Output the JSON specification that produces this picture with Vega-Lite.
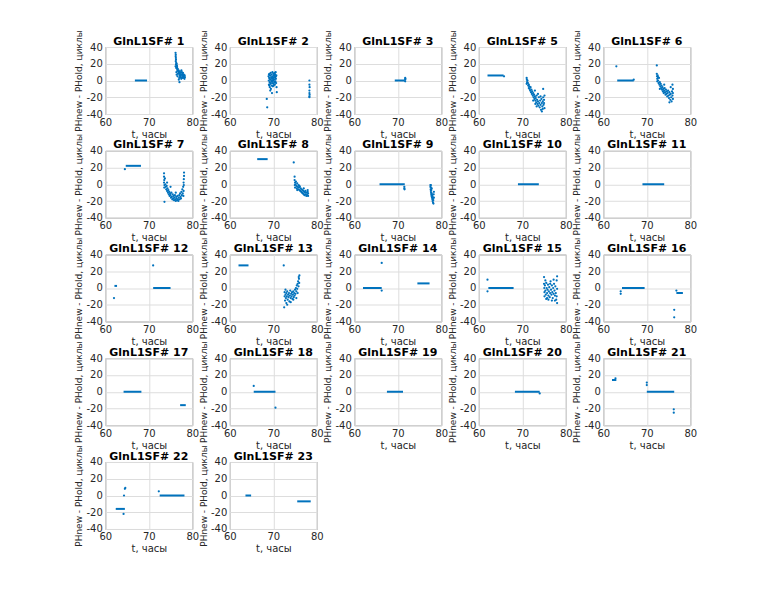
{
  "$schema": "https://vega.github.io/schema/vega-lite/v6.json",
  "padding": {"left": 74.3, "top": 29, "right": 5, "bottom": 5},
  "background": "white",
  "bounds": "flush",
  "spacing": {"column": 37.5, "row": 36.75},
  "columns": 5,
  "data": {"values": [
    {"p":"GlnL1SF# 1","t":66.8,"t2":69.6,"y":0},
    {"p":"GlnL1SF# 1","t":76.15,"y":33},{"p":"GlnL1SF# 1","t":76.2,"y":31},{"p":"GlnL1SF# 1","t":76.18,"y":29},{"p":"GlnL1SF# 1","t":76.22,"y":27},{"p":"GlnL1SF# 1","t":76.25,"y":25},{"p":"GlnL1SF# 1","t":76.2,"y":23},{"p":"GlnL1SF# 1","t":76.3,"y":21},{"p":"GlnL1SF# 1","t":76.25,"y":19},{"p":"GlnL1SF# 1","t":76.15,"y":17},{"p":"GlnL1SF# 1","t":76.3,"y":15},{"p":"GlnL1SF# 1","t":76.4,"y":20},{"p":"GlnL1SF# 1","t":76.45,"y":18},{"p":"GlnL1SF# 1","t":76.5,"y":15},{"p":"GlnL1SF# 1","t":76.55,"y":13},{"p":"GlnL1SF# 1","t":76.6,"y":12},{"p":"GlnL1SF# 1","t":76.35,"y":10},{"p":"GlnL1SF# 1","t":76.7,"y":8},{"p":"GlnL1SF# 1","t":76.5,"y":17},{"p":"GlnL1SF# 1","t":76.65,"y":14},{"p":"GlnL1SF# 1","t":76.75,"y":11},{"p":"GlnL1SF# 1","t":76.85,"y":12},{"p":"GlnL1SF# 1","t":76.9,"y":10},{"p":"GlnL1SF# 1","t":77.0,"y":8},{"p":"GlnL1SF# 1","t":77.1,"y":6},{"p":"GlnL1SF# 1","t":77.2,"y":5},{"p":"GlnL1SF# 1","t":76.95,"y":9},{"p":"GlnL1SF# 1","t":77.3,"y":7},{"p":"GlnL1SF# 1","t":77.4,"y":4},{"p":"GlnL1SF# 1","t":77.0,"y":3},{"p":"GlnL1SF# 1","t":77.15,"y":11},{"p":"GlnL1SF# 1","t":77.35,"y":6},{"p":"GlnL1SF# 1","t":77.6,"y":10},{"p":"GlnL1SF# 1","t":77.7,"y":8},{"p":"GlnL1SF# 1","t":77.8,"y":6},{"p":"GlnL1SF# 1","t":77.9,"y":5},{"p":"GlnL1SF# 1","t":78.0,"y":4},{"p":"GlnL1SF# 1","t":78.1,"y":3},{"p":"GlnL1SF# 1","t":77.65,"y":7},{"p":"GlnL1SF# 1","t":77.85,"y":9},{"p":"GlnL1SF# 1","t":78.2,"y":2},{"p":"GlnL1SF# 1","t":77.95,"y":5},{"p":"GlnL1SF# 1","t":78.25,"y":6},{"p":"GlnL1SF# 1","t":78.3,"y":4},{"p":"GlnL1SF# 1","t":77.5,"y":12},{"p":"GlnL1SF# 1","t":77.25,"y":9},{"p":"GlnL1SF# 1","t":77.05,"y":-2},{"p":"GlnL1SF# 1","t":76.4,"y":7},{"p":"GlnL1SF# 1","t":76.9,"y":1},{"p":"GlnL1SF# 1","t":77.45,"y":2},{"p":"GlnL1SF# 1","t":77.75,"y":3},{"p":"GlnL1SF# 1","t":78.05,"y":7},{"p":"GlnL1SF# 1","t":76.6,"y":5},

    {"p":"GlnL1SF# 2","t":68.9,"y":5},{"p":"GlnL1SF# 2","t":68.95,"y":0},{"p":"GlnL1SF# 2","t":69.0,"y":-5},{"p":"GlnL1SF# 2","t":69.05,"y":3},{"p":"GlnL1SF# 2","t":69.1,"y":8},{"p":"GlnL1SF# 2","t":69.15,"y":-2},{"p":"GlnL1SF# 2","t":69.2,"y":-8},{"p":"GlnL1SF# 2","t":69.25,"y":6},{"p":"GlnL1SF# 2","t":69.3,"y":1},{"p":"GlnL1SF# 2","t":69.35,"y":-4},{"p":"GlnL1SF# 2","t":69.4,"y":9},{"p":"GlnL1SF# 2","t":69.45,"y":-10},{"p":"GlnL1SF# 2","t":69.5,"y":4},{"p":"GlnL1SF# 2","t":69.55,"y":-1},{"p":"GlnL1SF# 2","t":69.6,"y":7},{"p":"GlnL1SF# 2","t":69.65,"y":-6},{"p":"GlnL1SF# 2","t":69.7,"y":2},{"p":"GlnL1SF# 2","t":69.75,"y":-3},{"p":"GlnL1SF# 2","t":69.8,"y":10},{"p":"GlnL1SF# 2","t":69.85,"y":5},{"p":"GlnL1SF# 2","t":69.9,"y":-7},{"p":"GlnL1SF# 2","t":69.95,"y":0},{"p":"GlnL1SF# 2","t":70.0,"y":8},{"p":"GlnL1SF# 2","t":70.05,"y":-4},{"p":"GlnL1SF# 2","t":70.1,"y":3},{"p":"GlnL1SF# 2","t":70.15,"y":6},{"p":"GlnL1SF# 2","t":70.2,"y":-2},{"p":"GlnL1SF# 2","t":70.25,"y":9},{"p":"GlnL1SF# 2","t":70.3,"y":1},{"p":"GlnL1SF# 2","t":70.35,"y":-5},{"p":"GlnL1SF# 2","t":70.4,"y":7},{"p":"GlnL1SF# 2","t":70.45,"y":4},{"p":"GlnL1SF# 2","t":70.5,"y":-1},{"p":"GlnL1SF# 2","t":70.55,"y":10},{"p":"GlnL1SF# 2","t":70.6,"y":2},{"p":"GlnL1SF# 2","t":70.65,"y":-3},{"p":"GlnL1SF# 2","t":70.7,"y":6},{"p":"GlnL1SF# 2","t":70.75,"y":-8},{"p":"GlnL1SF# 2","t":69.0,"y":7},{"p":"GlnL1SF# 2","t":69.2,"y":2},{"p":"GlnL1SF# 2","t":69.4,"y":-3},{"p":"GlnL1SF# 2","t":69.6,"y":0},{"p":"GlnL1SF# 2","t":69.8,"y":-1},{"p":"GlnL1SF# 2","t":70.0,"y":1},{"p":"GlnL1SF# 2","t":70.2,"y":4},{"p":"GlnL1SF# 2","t":70.4,"y":-2},{"p":"GlnL1SF# 2","t":70.6,"y":5},{"p":"GlnL1SF# 2","t":69.3,"y":-12},{"p":"GlnL1SF# 2","t":69.7,"y":-15},{"p":"GlnL1SF# 2","t":70.8,"y":-14},{"p":"GlnL1SF# 2","t":69.1,"y":-6},{"p":"GlnL1SF# 2","t":69.9,"y":3},{"p":"GlnL1SF# 2","t":70.3,"y":8},{"p":"GlnL1SF# 2","t":70.1,"y":-6},{"p":"GlnL1SF# 2","t":68.5,"y":-22},{"p":"GlnL1SF# 2","t":68.6,"y":-32},
    {"p":"GlnL1SF# 2","t":78.3,"y":0},{"p":"GlnL1SF# 2","t":78.3,"y":-5},{"p":"GlnL1SF# 2","t":78.35,"y":-8},{"p":"GlnL1SF# 2","t":78.3,"y":-12},{"p":"GlnL1SF# 2","t":78.3,"y":-15},{"p":"GlnL1SF# 2","t":78.35,"y":-17},{"p":"GlnL1SF# 2","t":78.3,"y":-19},{"p":"GlnL1SF# 2","t":78.3,"y":-20},

    {"p":"GlnL1SF# 3","t":69.3,"t2":71.6,"y":0},{"p":"GlnL1SF# 3","t":71.7,"y":3},{"p":"GlnL1SF# 3","t":71.7,"y":1},{"p":"GlnL1SF# 3","t":71.7,"y":-1},{"p":"GlnL1SF# 3","t":71.75,"y":2},

    {"p":"GlnL1SF# 5","t":62.0,"t2":65.7,"y":6},{"p":"GlnL1SF# 5","t":65.8,"y":5},
    {"p":"GlnL1SF# 5","t":71.0,"y":3},{"p":"GlnL1SF# 5","t":71.05,"y":1},{"p":"GlnL1SF# 5","t":71.1,"y":-2},{"p":"GlnL1SF# 5","t":71.0,"y":-4},{"p":"GlnL1SF# 5","t":71.2,"y":0},{"p":"GlnL1SF# 5","t":71.3,"y":-3},{"p":"GlnL1SF# 5","t":71.35,"y":-6},{"p":"GlnL1SF# 5","t":71.5,"y":-5},{"p":"GlnL1SF# 5","t":71.5,"y":-9},{"p":"GlnL1SF# 5","t":71.6,"y":-7},{"p":"GlnL1SF# 5","t":71.7,"y":-10},{"p":"GlnL1SF# 5","t":71.8,"y":-12},{"p":"GlnL1SF# 5","t":71.9,"y":-8},{"p":"GlnL1SF# 5","t":72.0,"y":-14},{"p":"GlnL1SF# 5","t":72.1,"y":-11},{"p":"GlnL1SF# 5","t":72.2,"y":-16},{"p":"GlnL1SF# 5","t":72.3,"y":-13},{"p":"GlnL1SF# 5","t":72.4,"y":-18},{"p":"GlnL1SF# 5","t":72.5,"y":-15},{"p":"GlnL1SF# 5","t":72.6,"y":-20},{"p":"GlnL1SF# 5","t":72.7,"y":-17},{"p":"GlnL1SF# 5","t":72.8,"y":-22},{"p":"GlnL1SF# 5","t":72.9,"y":-19},{"p":"GlnL1SF# 5","t":73.0,"y":-24},{"p":"GlnL1SF# 5","t":73.1,"y":-21},{"p":"GlnL1SF# 5","t":73.2,"y":-26},{"p":"GlnL1SF# 5","t":73.3,"y":-18},{"p":"GlnL1SF# 5","t":73.4,"y":-23},{"p":"GlnL1SF# 5","t":73.5,"y":-28},{"p":"GlnL1SF# 5","t":73.6,"y":-25},{"p":"GlnL1SF# 5","t":73.7,"y":-30},{"p":"GlnL1SF# 5","t":73.8,"y":-20},{"p":"GlnL1SF# 5","t":73.9,"y":-27},{"p":"GlnL1SF# 5","t":74.0,"y":-32},{"p":"GlnL1SF# 5","t":74.1,"y":-24},{"p":"GlnL1SF# 5","t":74.2,"y":-29},{"p":"GlnL1SF# 5","t":74.3,"y":-35},{"p":"GlnL1SF# 5","t":74.4,"y":-22},{"p":"GlnL1SF# 5","t":74.5,"y":-27},{"p":"GlnL1SF# 5","t":74.6,"y":-31},{"p":"GlnL1SF# 5","t":74.7,"y":-25},{"p":"GlnL1SF# 5","t":74.8,"y":-10},{"p":"GlnL1SF# 5","t":74.8,"y":-20},{"p":"GlnL1SF# 5","t":74.9,"y":-29},{"p":"GlnL1SF# 5","t":75.0,"y":-23},{"p":"GlnL1SF# 5","t":75.1,"y":-33},{"p":"GlnL1SF# 5","t":75.0,"y":-27},{"p":"GlnL1SF# 5","t":74.5,"y":-37},{"p":"GlnL1SF# 5","t":73.6,"y":-16},{"p":"GlnL1SF# 5","t":72.9,"y":-12},{"p":"GlnL1SF# 5","t":74.2,"y":-19},{"p":"GlnL1SF# 5","t":73.0,"y":-28},{"p":"GlnL1SF# 5","t":74.7,"y":-34},{"p":"GlnL1SF# 5","t":75.1,"y":-18},{"p":"GlnL1SF# 5","t":73.3,"y":-31},{"p":"GlnL1SF# 5","t":72.5,"y":-24},

    {"p":"GlnL1SF# 6","t":63.0,"y":17},{"p":"GlnL1SF# 6","t":63.2,"t2":67.0,"y":0},{"p":"GlnL1SF# 6","t":67.0,"y":1},{"p":"GlnL1SF# 6","t":72.3,"y":18},
    {"p":"GlnL1SF# 6","t":72.3,"y":8},{"p":"GlnL1SF# 6","t":72.35,"y":5},{"p":"GlnL1SF# 6","t":72.4,"y":2},{"p":"GlnL1SF# 6","t":72.4,"y":-1},{"p":"GlnL1SF# 6","t":72.5,"y":6},{"p":"GlnL1SF# 6","t":72.6,"y":0},{"p":"GlnL1SF# 6","t":72.7,"y":-3},{"p":"GlnL1SF# 6","t":72.8,"y":3},{"p":"GlnL1SF# 6","t":72.9,"y":-5},{"p":"GlnL1SF# 6","t":73.0,"y":-2},{"p":"GlnL1SF# 6","t":73.1,"y":-7},{"p":"GlnL1SF# 6","t":73.2,"y":-4},{"p":"GlnL1SF# 6","t":73.3,"y":-9},{"p":"GlnL1SF# 6","t":73.4,"y":-6},{"p":"GlnL1SF# 6","t":73.5,"y":-11},{"p":"GlnL1SF# 6","t":73.6,"y":-8},{"p":"GlnL1SF# 6","t":73.7,"y":-13},{"p":"GlnL1SF# 6","t":73.8,"y":-10},{"p":"GlnL1SF# 6","t":73.9,"y":-15},{"p":"GlnL1SF# 6","t":74.0,"y":-12},{"p":"GlnL1SF# 6","t":74.1,"y":-9},{"p":"GlnL1SF# 6","t":74.2,"y":-14},{"p":"GlnL1SF# 6","t":74.3,"y":-17},{"p":"GlnL1SF# 6","t":74.4,"y":-11},{"p":"GlnL1SF# 6","t":74.5,"y":-16},{"p":"GlnL1SF# 6","t":74.6,"y":-13},{"p":"GlnL1SF# 6","t":74.7,"y":-19},{"p":"GlnL1SF# 6","t":74.8,"y":-15},{"p":"GlnL1SF# 6","t":74.9,"y":-12},{"p":"GlnL1SF# 6","t":75.0,"y":-18},{"p":"GlnL1SF# 6","t":75.1,"y":-21},{"p":"GlnL1SF# 6","t":75.2,"y":-14},{"p":"GlnL1SF# 6","t":75.3,"y":-17},{"p":"GlnL1SF# 6","t":75.4,"y":-23},{"p":"GlnL1SF# 6","t":75.5,"y":-16},{"p":"GlnL1SF# 6","t":75.6,"y":-20},{"p":"GlnL1SF# 6","t":75.7,"y":-25},{"p":"GlnL1SF# 6","t":75.8,"y":-13},{"p":"GlnL1SF# 6","t":75.9,"y":-18},{"p":"GlnL1SF# 6","t":76.0,"y":-22},{"p":"GlnL1SF# 6","t":75.9,"y":-5},{"p":"GlnL1SF# 6","t":76.0,"y":-10},{"p":"GlnL1SF# 6","t":75.5,"y":-8},{"p":"GlnL1SF# 6","t":74.0,"y":-5},{"p":"GlnL1SF# 6","t":73.0,"y":-10},{"p":"GlnL1SF# 6","t":72.6,"y":4},{"p":"GlnL1SF# 6","t":75.2,"y":-26},{"p":"GlnL1SF# 6","t":76.0,"y":-15},

    {"p":"GlnL1SF# 7","t":64.5,"y":18},{"p":"GlnL1SF# 7","t":64.7,"t2":68.2,"y":22},
    {"p":"GlnL1SF# 7","t":73.5,"y":13},{"p":"GlnL1SF# 7","t":73.5,"y":9},{"p":"GlnL1SF# 7","t":73.55,"y":5},{"p":"GlnL1SF# 7","t":73.5,"y":2},{"p":"GlnL1SF# 7","t":73.6,"y":-1},{"p":"GlnL1SF# 7","t":73.55,"y":-4},{"p":"GlnL1SF# 7","t":73.6,"y":-21},{"p":"GlnL1SF# 7","t":73.7,"y":7},{"p":"GlnL1SF# 7","t":73.8,"y":0},{"p":"GlnL1SF# 7","t":73.9,"y":-3},{"p":"GlnL1SF# 7","t":74.0,"y":-6},{"p":"GlnL1SF# 7","t":74.1,"y":-2},{"p":"GlnL1SF# 7","t":74.2,"y":-8},{"p":"GlnL1SF# 7","t":74.3,"y":-5},{"p":"GlnL1SF# 7","t":74.4,"y":-10},{"p":"GlnL1SF# 7","t":74.5,"y":-7},{"p":"GlnL1SF# 7","t":74.6,"y":-12},{"p":"GlnL1SF# 7","t":74.7,"y":-9},{"p":"GlnL1SF# 7","t":74.8,"y":-14},{"p":"GlnL1SF# 7","t":74.9,"y":-11},{"p":"GlnL1SF# 7","t":75.0,"y":-13},{"p":"GlnL1SF# 7","t":75.1,"y":-16},{"p":"GlnL1SF# 7","t":75.2,"y":-10},{"p":"GlnL1SF# 7","t":75.3,"y":-15},{"p":"GlnL1SF# 7","t":75.4,"y":-18},{"p":"GlnL1SF# 7","t":75.5,"y":-12},{"p":"GlnL1SF# 7","t":75.6,"y":-17},{"p":"GlnL1SF# 7","t":75.7,"y":-14},{"p":"GlnL1SF# 7","t":75.8,"y":-19},{"p":"GlnL1SF# 7","t":75.9,"y":-16},{"p":"GlnL1SF# 7","t":76.0,"y":-13},{"p":"GlnL1SF# 7","t":76.1,"y":-18},{"p":"GlnL1SF# 7","t":76.2,"y":-20},{"p":"GlnL1SF# 7","t":76.3,"y":-15},{"p":"GlnL1SF# 7","t":76.4,"y":-17},{"p":"GlnL1SF# 7","t":76.5,"y":-19},{"p":"GlnL1SF# 7","t":76.6,"y":-14},{"p":"GlnL1SF# 7","t":76.7,"y":-18},{"p":"GlnL1SF# 7","t":76.8,"y":-20},{"p":"GlnL1SF# 7","t":76.9,"y":-16},{"p":"GlnL1SF# 7","t":77.0,"y":-13},{"p":"GlnL1SF# 7","t":77.1,"y":-18},{"p":"GlnL1SF# 7","t":77.2,"y":-11},{"p":"GlnL1SF# 7","t":77.3,"y":-15},{"p":"GlnL1SF# 7","t":77.4,"y":-17},{"p":"GlnL1SF# 7","t":77.5,"y":-9},{"p":"GlnL1SF# 7","t":77.6,"y":-13},{"p":"GlnL1SF# 7","t":77.7,"y":-6},{"p":"GlnL1SF# 7","t":77.8,"y":-11},{"p":"GlnL1SF# 7","t":77.9,"y":-3},{"p":"GlnL1SF# 7","t":78.0,"y":-8},{"p":"GlnL1SF# 7","t":78.0,"y":2},{"p":"GlnL1SF# 7","t":78.05,"y":6},{"p":"GlnL1SF# 7","t":78.1,"y":10},{"p":"GlnL1SF# 7","t":78.1,"y":14},{"p":"GlnL1SF# 7","t":78.05,"y":-1},{"p":"GlnL1SF# 7","t":77.95,"y":-14},{"p":"GlnL1SF# 7","t":76.2,"y":-10},{"p":"GlnL1SF# 7","t":75.0,"y":-3},{"p":"GlnL1SF# 7","t":74.2,"y":2},

    {"p":"GlnL1SF# 8","t":66.3,"t2":68.7,"y":30},{"p":"GlnL1SF# 8","t":74.7,"y":26},
    {"p":"GlnL1SF# 8","t":74.9,"y":9},{"p":"GlnL1SF# 8","t":74.9,"y":5},{"p":"GlnL1SF# 8","t":75.0,"y":2},{"p":"GlnL1SF# 8","t":74.95,"y":-1},{"p":"GlnL1SF# 8","t":75.0,"y":-4},{"p":"GlnL1SF# 8","t":75.1,"y":0},{"p":"GlnL1SF# 8","t":75.2,"y":3},{"p":"GlnL1SF# 8","t":75.3,"y":-2},{"p":"GlnL1SF# 8","t":75.4,"y":-5},{"p":"GlnL1SF# 8","t":75.5,"y":1},{"p":"GlnL1SF# 8","t":75.6,"y":-3},{"p":"GlnL1SF# 8","t":75.7,"y":-6},{"p":"GlnL1SF# 8","t":75.8,"y":-1},{"p":"GlnL1SF# 8","t":75.9,"y":-4},{"p":"GlnL1SF# 8","t":76.0,"y":-7},{"p":"GlnL1SF# 8","t":76.1,"y":-3},{"p":"GlnL1SF# 8","t":76.2,"y":-8},{"p":"GlnL1SF# 8","t":76.3,"y":-5},{"p":"GlnL1SF# 8","t":76.4,"y":-9},{"p":"GlnL1SF# 8","t":76.5,"y":-6},{"p":"GlnL1SF# 8","t":76.6,"y":-10},{"p":"GlnL1SF# 8","t":76.7,"y":-7},{"p":"GlnL1SF# 8","t":76.8,"y":-11},{"p":"GlnL1SF# 8","t":76.9,"y":-8},{"p":"GlnL1SF# 8","t":77.0,"y":-12},{"p":"GlnL1SF# 8","t":77.1,"y":-9},{"p":"GlnL1SF# 8","t":77.2,"y":-13},{"p":"GlnL1SF# 8","t":77.3,"y":-10},{"p":"GlnL1SF# 8","t":77.4,"y":-8},{"p":"GlnL1SF# 8","t":77.5,"y":-12},{"p":"GlnL1SF# 8","t":77.6,"y":-14},{"p":"GlnL1SF# 8","t":77.7,"y":-10},{"p":"GlnL1SF# 8","t":77.8,"y":-13},{"p":"GlnL1SF# 8","t":77.9,"y":-9},{"p":"GlnL1SF# 8","t":78.0,"y":-11},{"p":"GlnL1SF# 8","t":78.0,"y":-14},{"p":"GlnL1SF# 8","t":77.9,"y":-7},{"p":"GlnL1SF# 8","t":76.0,"y":-2},{"p":"GlnL1SF# 8","t":75.5,"y":-7},{"p":"GlnL1SF# 8","t":77.0,"y":-5},

    {"p":"GlnL1SF# 9","t":65.8,"t2":71.6,"y":0},{"p":"GlnL1SF# 9","t":71.5,"y":-3},{"p":"GlnL1SF# 9","t":71.5,"y":-5},{"p":"GlnL1SF# 9","t":71.55,"y":-6},
    {"p":"GlnL1SF# 9","t":77.5,"y":-1},{"p":"GlnL1SF# 9","t":77.5,"y":-3},{"p":"GlnL1SF# 9","t":77.55,"y":-6},{"p":"GlnL1SF# 9","t":77.6,"y":-4},{"p":"GlnL1SF# 9","t":77.6,"y":-8},{"p":"GlnL1SF# 9","t":77.65,"y":-10},{"p":"GlnL1SF# 9","t":77.7,"y":-7},{"p":"GlnL1SF# 9","t":77.7,"y":-12},{"p":"GlnL1SF# 9","t":77.75,"y":-14},{"p":"GlnL1SF# 9","t":77.8,"y":-11},{"p":"GlnL1SF# 9","t":77.85,"y":-16},{"p":"GlnL1SF# 9","t":77.9,"y":-13},{"p":"GlnL1SF# 9","t":77.95,"y":-18},{"p":"GlnL1SF# 9","t":78.0,"y":-15},{"p":"GlnL1SF# 9","t":78.0,"y":-20},{"p":"GlnL1SF# 9","t":78.05,"y":-17},{"p":"GlnL1SF# 9","t":78.1,"y":-22},{"p":"GlnL1SF# 9","t":78.15,"y":-19},{"p":"GlnL1SF# 9","t":78.2,"y":-23},{"p":"GlnL1SF# 9","t":78.3,"y":-16},{"p":"GlnL1SF# 9","t":78.25,"y":-12},{"p":"GlnL1SF# 9","t":78.3,"y":-9},{"p":"GlnL1SF# 9","t":77.8,"y":-5},{"p":"GlnL1SF# 9","t":77.6,"y":-1},

    {"p":"GlnL1SF# 10","t":69.0,"t2":73.8,"y":0},
    {"p":"GlnL1SF# 11","t":69.0,"t2":74.0,"y":0},

    {"p":"GlnL1SF# 12","t":62.1,"t2":62.7,"y":2.5},{"p":"GlnL1SF# 12","t":62.0,"y":-12},{"p":"GlnL1SF# 12","t":71.0,"y":27},{"p":"GlnL1SF# 12","t":71.0,"t2":75.0,"y":0},

    {"p":"GlnL1SF# 13","t":62.0,"t2":64.3,"y":27},{"p":"GlnL1SF# 13","t":72.4,"y":27},
    {"p":"GlnL1SF# 13","t":72.5,"y":-23},{"p":"GlnL1SF# 13","t":72.6,"y":-5},{"p":"GlnL1SF# 13","t":72.6,"y":-10},{"p":"GlnL1SF# 13","t":72.7,"y":-15},{"p":"GlnL1SF# 13","t":72.8,"y":-8},{"p":"GlnL1SF# 13","t":72.9,"y":-12},{"p":"GlnL1SF# 13","t":73.0,"y":-6},{"p":"GlnL1SF# 13","t":73.0,"y":-18},{"p":"GlnL1SF# 13","t":73.1,"y":-10},{"p":"GlnL1SF# 13","t":73.2,"y":-4},{"p":"GlnL1SF# 13","t":73.3,"y":-14},{"p":"GlnL1SF# 13","t":73.4,"y":-8},{"p":"GlnL1SF# 13","t":73.5,"y":-11},{"p":"GlnL1SF# 13","t":73.6,"y":-6},{"p":"GlnL1SF# 13","t":73.7,"y":-16},{"p":"GlnL1SF# 13","t":73.8,"y":-9},{"p":"GlnL1SF# 13","t":73.9,"y":-3},{"p":"GlnL1SF# 13","t":74.0,"y":-12},{"p":"GlnL1SF# 13","t":74.1,"y":-7},{"p":"GlnL1SF# 13","t":74.2,"y":-10},{"p":"GlnL1SF# 13","t":74.3,"y":-5},{"p":"GlnL1SF# 13","t":74.4,"y":-13},{"p":"GlnL1SF# 13","t":74.5,"y":-8},{"p":"GlnL1SF# 13","t":74.6,"y":-4},{"p":"GlnL1SF# 13","t":74.7,"y":-11},{"p":"GlnL1SF# 13","t":74.8,"y":-6},{"p":"GlnL1SF# 13","t":74.9,"y":-9},{"p":"GlnL1SF# 13","t":75.0,"y":-2},{"p":"GlnL1SF# 13","t":75.1,"y":-7},{"p":"GlnL1SF# 13","t":75.2,"y":0},{"p":"GlnL1SF# 13","t":75.3,"y":-4},{"p":"GlnL1SF# 13","t":75.4,"y":3},{"p":"GlnL1SF# 13","t":75.5,"y":-1},{"p":"GlnL1SF# 13","t":75.6,"y":5},{"p":"GlnL1SF# 13","t":75.7,"y":8},{"p":"GlnL1SF# 13","t":75.8,"y":2},{"p":"GlnL1SF# 13","t":75.9,"y":11},{"p":"GlnL1SF# 13","t":76.0,"y":15},{"p":"GlnL1SF# 13","t":75.95,"y":6},{"p":"GlnL1SF# 13","t":75.85,"y":13},{"p":"GlnL1SF# 13","t":75.3,"y":-12},{"p":"GlnL1SF# 13","t":74.0,"y":-17},{"p":"GlnL1SF# 13","t":73.2,"y":-20},{"p":"GlnL1SF# 13","t":72.8,"y":-2},{"p":"GlnL1SF# 13","t":74.6,"y":-14},{"p":"GlnL1SF# 13","t":75.6,"y":-6},

    {"p":"GlnL1SF# 14","t":62.0,"t2":66.3,"y":0},{"p":"GlnL1SF# 14","t":66.3,"y":30},{"p":"GlnL1SF# 14","t":66.3,"y":-3},{"p":"GlnL1SF# 14","t":74.5,"t2":77.3,"y":5.5},

    {"p":"GlnL1SF# 15","t":62.0,"y":10},{"p":"GlnL1SF# 15","t":62.0,"y":-4},{"p":"GlnL1SF# 15","t":62.2,"t2":68.0,"y":0},
    {"p":"GlnL1SF# 15","t":75.0,"y":13},{"p":"GlnL1SF# 15","t":75.0,"y":5},{"p":"GlnL1SF# 15","t":75.05,"y":0},{"p":"GlnL1SF# 15","t":75.1,"y":-5},{"p":"GlnL1SF# 15","t":75.1,"y":-10},{"p":"GlnL1SF# 15","t":75.2,"y":3},{"p":"GlnL1SF# 15","t":75.3,"y":-3},{"p":"GlnL1SF# 15","t":75.4,"y":-8},{"p":"GlnL1SF# 15","t":75.5,"y":-13},{"p":"GlnL1SF# 15","t":75.5,"y":6},{"p":"GlnL1SF# 15","t":75.6,"y":0},{"p":"GlnL1SF# 15","t":75.7,"y":-6},{"p":"GlnL1SF# 15","t":75.8,"y":-2},{"p":"GlnL1SF# 15","t":75.9,"y":4},{"p":"GlnL1SF# 15","t":76.0,"y":-9},{"p":"GlnL1SF# 15","t":76.1,"y":-4},{"p":"GlnL1SF# 15","t":76.2,"y":1},{"p":"GlnL1SF# 15","t":76.3,"y":-11},{"p":"GlnL1SF# 15","t":76.4,"y":-6},{"p":"GlnL1SF# 15","t":76.5,"y":8},{"p":"GlnL1SF# 15","t":76.6,"y":-2},{"p":"GlnL1SF# 15","t":76.7,"y":-8},{"p":"GlnL1SF# 15","t":76.8,"y":3},{"p":"GlnL1SF# 15","t":76.9,"y":-5},{"p":"GlnL1SF# 15","t":77.0,"y":-12},{"p":"GlnL1SF# 15","t":77.1,"y":0},{"p":"GlnL1SF# 15","t":77.2,"y":-7},{"p":"GlnL1SF# 15","t":77.3,"y":5},{"p":"GlnL1SF# 15","t":77.4,"y":-3},{"p":"GlnL1SF# 15","t":77.5,"y":-9},{"p":"GlnL1SF# 15","t":77.6,"y":2},{"p":"GlnL1SF# 15","t":77.7,"y":-6},{"p":"GlnL1SF# 15","t":77.8,"y":-14},{"p":"GlnL1SF# 15","t":77.9,"y":9},{"p":"GlnL1SF# 15","t":78.0,"y":14},{"p":"GlnL1SF# 15","t":78.0,"y":-18},{"p":"GlnL1SF# 15","t":78.0,"y":-1},{"p":"GlnL1SF# 15","t":77.9,"y":-10},{"p":"GlnL1SF# 15","t":75.3,"y":9},{"p":"GlnL1SF# 15","t":76.0,"y":-14},{"p":"GlnL1SF# 15","t":76.8,"y":-15},{"p":"GlnL1SF# 15","t":77.2,"y":10},{"p":"GlnL1SF# 15","t":75.7,"y":-12},{"p":"GlnL1SF# 15","t":76.4,"y":5},{"p":"GlnL1SF# 15","t":77.5,"y":-15},

    {"p":"GlnL1SF# 16","t":64.0,"y":-4},{"p":"GlnL1SF# 16","t":64.0,"y":-7},{"p":"GlnL1SF# 16","t":64.3,"t2":69.5,"y":0},{"p":"GlnL1SF# 16","t":76.3,"y":-26},{"p":"GlnL1SF# 16","t":76.3,"y":-35},{"p":"GlnL1SF# 16","t":76.8,"y":-3},{"p":"GlnL1SF# 16","t":76.8,"t2":78.3,"y":-6},

    {"p":"GlnL1SF# 17","t":64.2,"t2":68.3,"y":0},{"p":"GlnL1SF# 17","t":77.2,"t2":78.5,"y":-16},

    {"p":"GlnL1SF# 18","t":65.5,"y":7},{"p":"GlnL1SF# 18","t":65.5,"t2":70.5,"y":0},{"p":"GlnL1SF# 18","t":70.5,"y":-19},

    {"p":"GlnL1SF# 19","t":67.5,"t2":71.2,"y":0},

    {"p":"GlnL1SF# 20","t":68.3,"t2":74.0,"y":0},{"p":"GlnL1SF# 20","t":74.0,"y":-2},

    {"p":"GlnL1SF# 21","t":62.0,"t2":63.0,"y":14},{"p":"GlnL1SF# 21","t":62.8,"y":16},{"p":"GlnL1SF# 21","t":70.0,"y":11},{"p":"GlnL1SF# 21","t":70.0,"y":8},{"p":"GlnL1SF# 21","t":70.0,"t2":76.3,"y":0},{"p":"GlnL1SF# 21","t":76.2,"y":-21},{"p":"GlnL1SF# 21","t":76.2,"y":-25},

    {"p":"GlnL1SF# 22","t":62.4,"t2":64.5,"y":-16},{"p":"GlnL1SF# 22","t":64.2,"y":-22},{"p":"GlnL1SF# 22","t":64.3,"y":0},{"p":"GlnL1SF# 22","t":64.5,"y":8},{"p":"GlnL1SF# 22","t":64.6,"y":9},{"p":"GlnL1SF# 22","t":72.3,"y":5},{"p":"GlnL1SF# 22","t":72.5,"t2":78.2,"y":0},

    {"p":"GlnL1SF# 23","t":63.6,"t2":64.9,"y":0},{"p":"GlnL1SF# 23","t":75.5,"t2":78.6,"y":-7}
  ]},
  "facet": {"field": "p", "type": "nominal", "title": null,
    "sort": ["GlnL1SF# 1","GlnL1SF# 2","GlnL1SF# 3","GlnL1SF# 5","GlnL1SF# 6","GlnL1SF# 7","GlnL1SF# 8","GlnL1SF# 9","GlnL1SF# 10","GlnL1SF# 11","GlnL1SF# 12","GlnL1SF# 13","GlnL1SF# 14","GlnL1SF# 15","GlnL1SF# 16","GlnL1SF# 17","GlnL1SF# 18","GlnL1SF# 19","GlnL1SF# 20","GlnL1SF# 21","GlnL1SF# 22","GlnL1SF# 23"],
    "header": {"labelFont": "DejaVu Sans", "labelFontSize": 11, "labelFontWeight": "bold", "labelColor": "#000000", "labelPadding": -17}},
  "spec": {
    "width": 87,
    "height": 67,
    "encoding": {
      "x": {"field": "t", "type": "quantitative", "scale": {"domain": [60, 80]}, "axis": {"values": [60, 70, 80], "tickCount": 3, "grid": true, "title": "t, часы"}},
      "y": {"field": "y", "type": "quantitative", "scale": {"domain": [-40, 40]}, "axis": {"values": [-40, -20, 0, 20, 40], "tickCount": 5, "grid": true, "title": "PHnew - PHold, циклы", "titleFontSize": 9, "labelExpr": "replace(datum.label, '\u2212', '-')"}}
    },
    "layer": [
      {
        "transform": [{"filter": "isValid(datum.t2)"}],
        "mark": {"type": "rule", "color": "#0072BD", "strokeWidth": 2},
        "encoding": {"x2": {"field": "t2"}}
      },
      {
        "transform": [{"filter": "!isValid(datum.t2)"}],
        "mark": {"type": "circle", "color": "#0072BD", "size": 5, "opacity": 1},
        "encoding": {}
      }
    ]
  },
  "resolve": {"axis": {"x": "independent", "y": "independent"}},
  "config": {
    "font": "DejaVu Sans",
    "view": {"stroke": "#8c8c8c", "strokeWidth": 1},
    "axis": {"labelFont": "DejaVu Sans", "labelFontSize": 10, "labelColor": "#262626", "titleFont": "DejaVu Sans", "titleFontSize": 10, "titleFontWeight": "normal", "titleColor": "#262626", "domain": false, "ticks": false, "gridColor": "#dddddd", "labelPadding": 3, "labelFlush": false, "labelOverlap": false, "titlePadding": 2}
  }
}
